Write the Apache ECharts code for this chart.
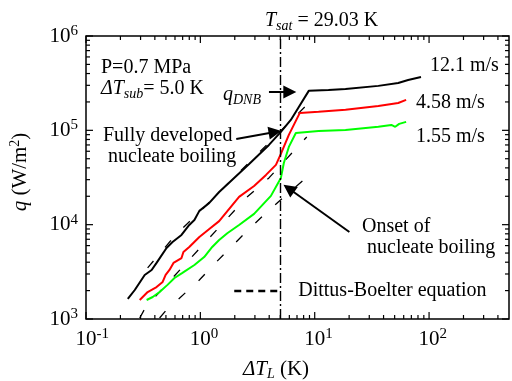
<!DOCTYPE html>
<html><head><meta charset="utf-8">
<script src="https://cdn.jsdelivr.net/npm/echarts@6/dist/echarts.min.js"></script>
<style>html,body{margin:0;padding:0;background:#fff}#c{width:512px;height:381px}</style>
</head><body><div id="c"></div>
<script>
// ---- axis ticks ----
const X_MIN = 0.1, X_MAX = 500, Y_MIN = 1e3, Y_MAX = 1e6;
const xTickValues = [0.1, 1, 10, 100];
const xTickExps = ['-1', '0', '1', '2'];
const yTickValues = [1e3, 1e4, 1e5, 1e6];
const yTickExps = ['3', '4', '5', '6'];
const minorMultipliers = [2, 3, 4, 5, 6, 7, 8, 9];

// ---- data: 12.1 m/s ----
const dT_121 = [0.232,0.267,0.326,0.375,0.414,0.506,0.571,0.684,0.80,0.887,0.98,1.197,1.46,2.67,3.98,5.06,6.18,7.26,8.87,13.2,18.6,36,53.7,65.6,85];
const q_121  = [1630,2030,2930,3310,3930,5660,6560,7780,9930,11200,14000,17000,22200,44000,70000,96200,129000,177000,262000,268000,275000,296000,318000,342000,368000];
// ---- 4.58 m/s ----
const dT_458 = [0.295,0.346,0.414,0.468,0.497,0.537,0.582,0.684,0.711,0.80,0.98,1.197,1.46,2.18,2.95,3.75,4.58,5.06,5.94,7.41,10.8,18.6,36,53.7,63];
const q_458  = [1590,1930,2180,2470,2930,3310,3930,4430,5130,5800,7410,9000,10900,19700,25700,33700,43000,56200,89400,153000,157000,165000,181000,195000,210000];
// ---- 1.55 m/s ----
const dT_155 = [0.339,0.383,0.44,0.516,0.594,0.697,0.887,1.08,1.27,1.46,1.72,2.18,2.95,4.14,5.06,5.37,5.94,6.84,10.8,18.6,36,46.8,50.6,54.8,63];
const q_155  = [1590,1710,1930,2300,2720,3080,3740,4540,5800,6890,8110,9930,13000,20200,31300,45100,66700,93800,98600,101000,109000,114000,109000,117000,123000];
// ---- Dittus-Boelter equation ----
const dT_DB1 = [0.346,0.607,0.98,8.87];
const q_DB1  = [3480,7780,13600,195000];
const dT_DB2 = [0.295,0.333,2.51,3.98,8.52];
const q_DB2  = [1025,1340,19200,31300,85100];
const dT_DB3 = [0.44,0.506,0.631,0.98,1.38,2.51,3.6,5.37,8.02];
const q_DB3  = [1025,1250,1590,2590,4020,8370,12700,19700,29800];
// ---- subcooling line (T_sat = 29.03 K, ΔT_sub = 5.0 K) ----
const dT_sub = 5.0;
// ---- annotation arrows [tail, head] ----
const arrowQDNB = [[3.98, 255000], [6.06, 255000]];
const arrowFDNB = [[2.06, 81100], [4.50, 95900]];
const arrowONB  = [[20.1, 8370], [5.93, 24200]];

const F = 'Liberation Serif';
const zip = (a, b) => a.map((v, i) => [v, b[i]]);

function findIdx(arr, v) {
  return arr.findIndex(t => Math.abs(Math.log10(t) - Math.log10(v)) < 1e-6);
}

const tickRich = {
  b:  {fontFamily: F, fontSize: 21, lineHeight: 24, color: '#000'},
  b1: {fontFamily: F, fontSize: 21, lineHeight: 24, color: '#000', padding: [0, 0, 0, 7.5]},
  b2: {fontFamily: F, fontSize: 21, lineHeight: 24, color: '#000', padding: [0, 0, 0, 12.5]},
  s:  {fontFamily: F, fontSize: 15, color: '#000', padding: [0, 0, 10, 0]}
};

// tick mark data (major + minor) for both axes
const xTicks = [], yTicks = [];
for (let e = -1; e <= 2; e++) {
  [1].concat(minorMultipliers).forEach(m => {
    const v = m * Math.pow(10, e);
    if (v < X_MAX) xTicks.push([v, Y_MIN, m === 1 ? 1 : 0]);
  });
}
for (let e = 3; e <= 6; e++) {
  [1].concat(minorMultipliers).forEach(m => {
    const v = m * Math.pow(10, e);
    if (v <= Y_MAX) yTicks.push([X_MIN, v, m === 1 ? 1 : 0]);
  });
}

const dbStyle = {color: '#000', width: 1.3, type: [9, 18]};

const it = {fontFamily: F, fontSize: 20, fontStyle: 'italic', fill: '#000'};
const nn = {fontFamily: F, fontSize: 20, fill: '#000'};
const sb = {fontFamily: F, fontSize: 14, fontStyle: 'italic', fill: '#000', padding: [10, 0, 0, 0]};
const richA = {i: it, n: nn, sub: sb,
  i21: {fontFamily: F, fontSize: 21, fontStyle: 'italic', fill: '#000'},
  n21: {fontFamily: F, fontSize: 21, fill: '#000'},
  sup: {fontFamily: F, fontSize: 14, fill: '#000', padding: [0, 0, 10, 0]},
  sub21: {fontFamily: F, fontSize: 14, fontStyle: 'italic', fill: '#000', padding: [10, 0, 0, 0]}
};
function txt(x, y, text, extra) {
  return Object.assign({
    type: 'text', x: x, y: y, silent: true,
    style: {text: text, fontFamily: F, fontSize: 20, fill: '#000', align: 'left', verticalAlign: 'middle', rich: richA}
  }, extra || {});
}

const chart = echarts.init(document.getElementById('c'), null, {renderer: 'canvas'});
chart.setOption({
  animation: false,
  backgroundColor: '#fff',
  grid: {left: 86, right: 2, top: 36, bottom: 62, show: true, borderColor: '#000', borderWidth: 1.5, backgroundColor: 'transparent'},
  xAxis: {
    type: 'log', logBase: 10, min: X_MIN, max: X_MAX,
    axisLine: {show: false}, axisTick: {show: false}, splitLine: {show: false}, minorTick: {show: false},
    axisLabel: {
      margin: 8,
      formatter: v => {
        const i = findIdx(xTickValues, v);
        if (i < 0) return '';
        const e = xTickExps[i];
        return '{' + (e.length > 1 ? 'b2' : 'b1') + '|10}{s|' + e + '}';
      },
      rich: tickRich
    }
  },
  yAxis: {
    type: 'log', logBase: 10, min: Y_MIN, max: Y_MAX,
    axisLine: {show: false}, axisTick: {show: false}, splitLine: {show: false}, minorTick: {show: false},
    axisLabel: {
      margin: 8,
      formatter: v => {
        const i = findIdx(yTickValues, v);
        if (i < 0) return '';
        return '{b|10}{s|' + yTickExps[i] + '}';
      },
      rich: tickRich
    }
  },
  legend: {
    data: ['Dittus-Boelter equation'],
    left: 233, top: 281, padding: 0, itemWidth: 47, itemHeight: 14,
    selectedMode: false,
    textStyle: {fontFamily: F, fontSize: 20, color: '#000', padding: [0, 0, 0, 12]},
    lineStyle: {width: 2.5, type: [7, 5], color: '#000'},
    itemStyle: {opacity: 0}
  },
  series: [
    {name: 'Dittus-Boelter equation', type: 'line', data: zip(dT_DB1, q_DB1), symbol: 'none', lineStyle: dbStyle, z: 2},
    {name: 'Dittus-Boelter equation', type: 'line', data: zip(dT_DB2, q_DB2), symbol: 'none', lineStyle: dbStyle, z: 2},
    {name: 'Dittus-Boelter equation', type: 'line', data: zip(dT_DB3, q_DB3), symbol: 'none', lineStyle: dbStyle, z: 2},
    {name: '1.55 m/s', type: 'line', data: zip(dT_155, q_155), symbol: 'none', lineStyle: {color: '#00ff00', width: 2}, z: 3},
    {name: '4.58 m/s', type: 'line', data: zip(dT_458, q_458), symbol: 'none', lineStyle: {color: '#ff0000', width: 2}, z: 4},
    {name: '12.1 m/s', type: 'line', data: zip(dT_121, q_121), symbol: 'none', lineStyle: {color: '#000', width: 2}, z: 5,
      markLine: {silent: true, symbol: 'none', label: {show: false},
        lineStyle: {color: '#000', width: 1.4, type: [10, 3, 2, 3]},
        data: [{xAxis: dT_sub}]}},
    {type: 'lines', coordinateSystem: 'cartesian2d', symbol: ['none', 'triangle'], symbolSize: [9, 13], z: 6,
      lineStyle: {color: '#000', width: 2, opacity: 1, curveness: 0},
      data: [arrowQDNB, arrowFDNB, arrowONB].map(a => ({coords: a}))},
    {type: 'custom', data: xTicks, z: 7, silent: true,
      renderItem: (p, api) => {
        const v = api.value(0), len = api.value(2) ? 7 : 4;
        const b = api.coord([v, Y_MIN]), t = api.coord([v, Y_MAX]);
        const st = {stroke: '#000', lineWidth: 1.2};
        return {type: 'group', children: [
          {type: 'line', shape: {x1: b[0], y1: b[1], x2: b[0], y2: b[1] - len}, style: st},
          {type: 'line', shape: {x1: t[0], y1: t[1], x2: t[0], y2: t[1] + len}, style: st}
        ]};
      }},
    {type: 'custom', data: yTicks, z: 7, silent: true,
      renderItem: (p, api) => {
        const v = api.value(1), len = api.value(2) ? 7 : 4;
        const l = api.coord([X_MIN, v]), r = api.coord([X_MAX, v]);
        const st = {stroke: '#000', lineWidth: 1.2};
        return {type: 'group', children: [
          {type: 'line', shape: {x1: l[0], y1: l[1], x2: l[0] + len, y2: l[1]}, style: st},
          {type: 'line', shape: {x1: r[0], y1: r[1], x2: r[0] - len, y2: r[1]}, style: st}
        ]};
      }}
  ],
  graphic: [
    txt(20, 172, '{i21|q}{n21| (W/m}{sup|2}{n21|)}', {rotation: Math.PI / 2, style: {text: '{i21|q}{n21| (W/m}{sup|2}{n21|)}', align: 'center', verticalAlign: 'middle', rich: richA}}),
    txt(276, 369, '{i21|ΔT}{sub21|L}{n21| (K)}', {style: {text: '{i21|ΔT}{sub21|L}{n21| (K)}', align: 'center', verticalAlign: 'middle', rich: richA}}),
    txt(265, 21, '{i|T}{sub|sat}{n| = 29.03 K}'),
    txt(101, 68, '{n|P=0.7 MPa}'),
    txt(101, 89, '{i|ΔT}{sub|sub}{n|= 5.0 K}'),
    txt(223, 95, '{i|q}{sub|DNB}'),
    txt(103, 136, '{n|Fully developed}'),
    txt(108, 157, '{n|nucleate boiling}'),
    txt(362, 227, '{n|Onset of}'),
    txt(367, 248, '{n|nucleate boiling}'),
    txt(430, 66, '{n|12.1 m/s}'),
    txt(416, 103, '{n|4.58 m/s}'),
    txt(416, 137, '{n|1.55 m/s}')
  ]
});
</script>
</body></html>
